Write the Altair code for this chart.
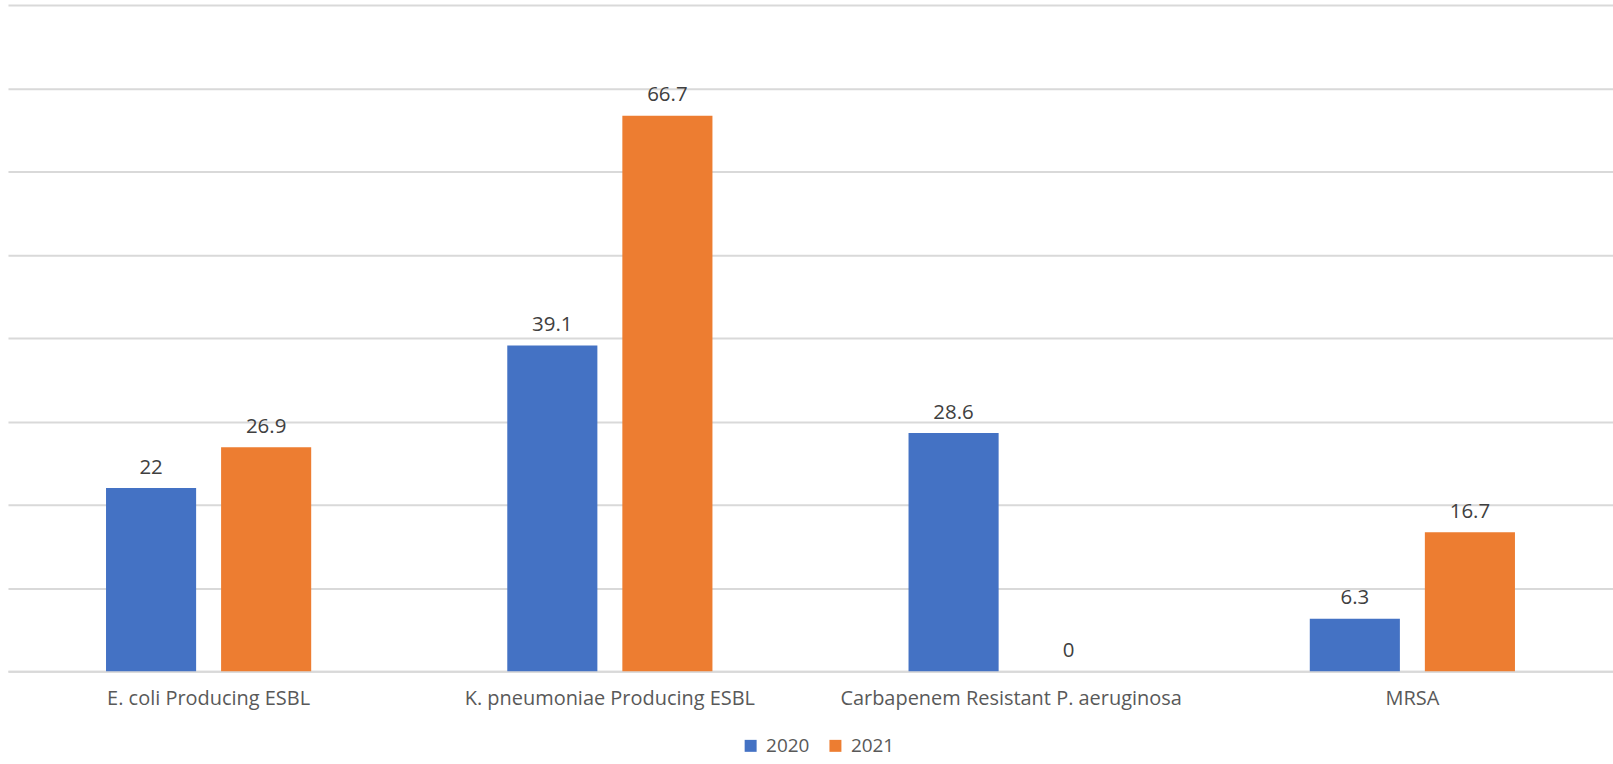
import altair as alt
import pandas as pd

categories = ["E. coli Producing ESBL", "K. pneumoniae Producing ESBL",
              "Carbapenem Resistant P. aeruginosa", "MRSA"]
values_2020 = [22, 39.1, 28.6, 6.3]
values_2021 = [26.9, 66.7, 0, 16.7]
years = ["2020", "2021"]
colors = ["#4472C4", "#ED7D31"]
y_ticks = [0, 10, 20, 30, 40, 50, 60, 70, 80]

rows = []
for c, a, b in zip(categories, values_2020, values_2021):
    rows.append({"cat": c, "year": "2020", "val": a, "lbl": f"{a:g}"})
    rows.append({"cat": c, "year": "2021", "val": b, "lbl": f"{b:g}"})
df = pd.DataFrame(rows)

FONT = "Open Sans"

x = alt.X("cat:N", sort=categories, title=None,
          scale=alt.Scale(paddingInner=0, paddingOuter=0),
          axis=alt.Axis(labelAngle=0, labelFontSize=20, labelColor="#595959",
                        labelFont=FONT, labelPadding=17, ticks=False, grid=False,
                        domainColor="#d9d9d9", domainWidth=2, labelLimit=500))
xo = alt.XOffset("year:N", scale=alt.Scale(paddingInner=0.217, paddingOuter=0.852))
y = alt.Y("val:Q", title=None, scale=alt.Scale(domain=[0, 80], nice=False),
          axis=alt.Axis(values=y_ticks, labels=False, ticks=False, domain=False,
                        grid=True, gridColor="#d9d9d9", gridWidth=2))

base = alt.Chart(df)
bars = base.mark_bar().encode(
    x=x, xOffset=xo, y=y,
    color=alt.Color("year:N", scale=alt.Scale(domain=years, range=colors),
                    legend=alt.Legend(title=None, orient="none", direction="horizontal",
                                      legendX=735, legendY=733, symbolType="square",
                                      symbolSize=144, symbolStrokeWidth=0,
                                      labelFontSize=19, labelColor="#595959",
                                      labelFont=FONT, columnPadding=16, labelOffset=6)),
)
texts = base.mark_text(baseline="alphabetic", dy=-14.5, fontSize=20.5, color="#404040",
                       font=FONT).encode(
    x=x, xOffset=xo, y=y, text="lbl:N")

chart = (bars + texts).properties(
    width=1609, height=668,
    background="white",
    autosize=alt.AutoSizeParams(type="none"),
    padding={"left": 8, "top": 4, "right": 0, "bottom": 92},
).configure_view(strokeWidth=0).configure_axisY(
    domain=False, ticks=False, labels=False
).configure_axisX(grid=False)

chart.save("out.html", embed_options={"renderer": "svg", "actions": False})
